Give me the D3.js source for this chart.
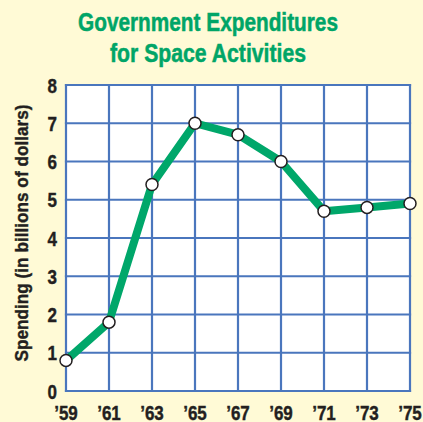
<!DOCTYPE html>
<html>
<head>
<meta charset="utf-8">
<script src="https://cdn.jsdelivr.net/npm/d3@7"></script>
<style>
  html, body { margin: 0; padding: 0; background: #fffad6; }
  svg { display: block; }
  .title { font-family: "Liberation Sans", Arial, sans-serif; font-weight: bold; fill: #00a567; stroke: #00a567; stroke-width: 0.5px; }
  .lab { font-family: "Liberation Sans", Arial, sans-serif; font-weight: bold; fill: #231f20; stroke: #231f20; stroke-width: 0.4px; }
</style>
</head>
<body>
<svg></svg>
<script>
var years = ["\u201959", "\u201961", "\u201963", "\u201965", "\u201967", "\u201969", "\u201971", "\u201973", "\u201975"];
var spending = [0.8, 1.8, 5.4, 7.0, 6.7, 6.0, 4.7, 4.8, 4.9];
var yTicks = [0, 1, 2, 3, 4, 5, 6, 7, 8];
var titleLines = ["Government Expenditures", "for Space Activities"];
var yTitle = "Spending (in billions of dollars)";

var width = 423,
    height = 422;

var svg = d3.select('svg')
    .attr('width', width)
    .attr('height', height);

svg.append('rect')
    .attr('width', width)
    .attr('height', height)
    .attr('fill', '#fffad6');

var plotL = 66, plotR = 410, plotT = 85, plotB = 391;
var squeeze = 0.85;

var x = d3.scalePoint()
    .domain(years)
    .range([plotL, plotR]);

var y = d3.scaleLinear()
    .domain([0, 8])
    .range([plotB, plotT]);

// plot background
svg.append('rect')
    .attr('x', plotL)
    .attr('y', plotT)
    .attr('width', plotR - plotL)
    .attr('height', plotB - plotT)
    .attr('fill', '#ffffff');

// grid
var grid = svg.append('g')
    .attr('stroke', '#4a76bd')
    .attr('stroke-width', 2.2)
    .attr('stroke-linecap', 'square');

grid.selectAll('line.v')
    .data(years)
    .enter().append('line')
    .attr('x1', function(d){ return x(d); })
    .attr('x2', function(d){ return x(d); })
    .attr('y1', plotT)
    .attr('y2', plotB);

grid.selectAll('line.h')
    .data(yTicks)
    .enter().append('line')
    .attr('x1', plotL)
    .attr('x2', plotR)
    .attr('y1', function(d){ return y(d); })
    .attr('y2', function(d){ return y(d); });

// y tick labels
svg.selectAll('text.ylab')
    .data(yTicks)
    .enter().append('text')
    .attr('class', 'lab')
    .attr('transform', function(d){ return 'translate(57,' + y(d) + ') scale(' + squeeze + ',1)'; })
    .attr('dy', '0.38em')
    .attr('text-anchor', 'end')
    .style('font-size', '20px')
    .text(function(d){ return d; });

// x tick labels
svg.selectAll('text.xlab')
    .data(years)
    .enter().append('text')
    .attr('class', 'lab')
    .attr('transform', function(d){ return 'translate(' + x(d) + ',420) scale(' + squeeze + ',1)'; })
    .attr('text-anchor', 'middle')
    .style('font-size', '20px')
    .text(function(d){ return d; });

// axis title
svg.append('text')
    .attr('class', 'lab')
    .attr('transform', 'translate(28,233) rotate(-90)')
    .attr('text-anchor', 'middle')
    .attr('textLength', 257)
    .attr('lengthAdjust', 'spacingAndGlyphs')
    .style('font-size', '19px')
    .text(yTitle);

// title
var titleW = [260, 196];
svg.selectAll('text.title')
    .data(titleLines)
    .enter().append('text')
    .attr('class', 'title')
    .attr('x', 208)
    .attr('y', function(d, i){ return 31 + i * 31; })
    .attr('text-anchor', 'middle')
    .attr('textLength', function(d, i){ return titleW[i]; })
    .attr('lengthAdjust', 'spacingAndGlyphs')
    .style('font-size', '25px')
    .text(function(d){ return d; });

// line
var line = d3.line()
    .x(function(d, i){ return x(years[i]); })
    .y(function(d){ return y(d); });

svg.append('path')
    .datum(spending)
    .attr('d', line)
    .attr('fill', 'none')
    .attr('stroke', '#00a76a')
    .attr('stroke-width', 8)
    .attr('stroke-linejoin', 'round');

svg.selectAll('circle.pt')
    .data(spending)
    .enter().append('circle')
    .attr('cx', function(d, i){ return x(years[i]); })
    .attr('cy', function(d){ return y(d); })
    .attr('r', 6)
    .attr('fill', '#ffffff')
    .attr('stroke', '#231f20')
    .attr('stroke-width', 1.5);
</script>
</body>
</html>
